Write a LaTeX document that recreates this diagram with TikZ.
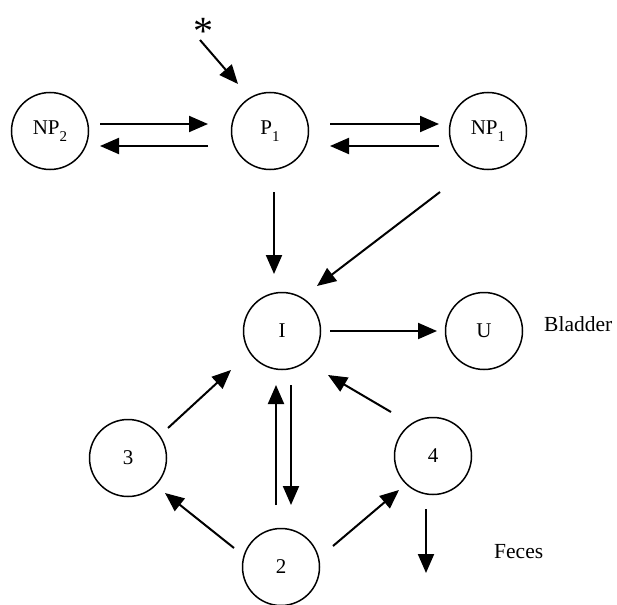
\documentclass[tikz,border=0pt]{standalone}
\usepackage{fontspec}
\setmainfont{Liberation Serif}
\usetikzlibrary{calc,arrows.meta}
\newcommand\lowsub[1]{\raisebox{-7pt}{\fontsize{15}{15}\selectfont #1}}
\begin{document}
\begin{tikzpicture}[x=1pt,y=-1pt,
  comp/.style={draw, circle, line width=1.5pt, minimum size=77pt, inner sep=0pt,
               font=\fontsize{21}{24}\selectfont},
  flow/.style={line width=2pt, -{Triangle[length=19pt,width=16pt]}},
  lbl/.style={font=\fontsize{21.5}{24}\selectfont, inner sep=0pt, anchor=west}]
\useasboundingbox (0,0) rectangle (617,604);

% compartments
\node[comp] (NP2) at (50,131)  {NP\lowsub{2}};
\node[comp] (P1)  at (270,131) {P\lowsub{1}};
\node[comp] (NP1) at (488,131) {NP\lowsub{1}};
\node[comp] (I)   at (282,331) {I};
\node[comp] (U)   at (484,331) {U};
\node[comp] (n3)  at (128,458) {3};
\node[comp] (n4)  at (433,456) {4};
\node[comp] (n2)  at (281,567) {2};

% dose marker and labels
\node[font=\fontsize{40}{40}\selectfont, inner sep=0pt] (dose) at (203,31) {*};
\node[lbl] (bladder) at (544,324) {Bladder};
\node[lbl] (feces)   at (494,552) {Feces};
\coordinate (out4) at (426,573);

% transfers
\draw[flow] ($(dose)+(-3,9)$) -- ($(P1)+(-32,-47)$);
\draw[flow] ($(NP2)+(50,-7)$) -- ($(P1)+(-62,-7)$);
\draw[flow] ($(P1)+(-62,15)$) -- ($(NP2)+(50,15)$);
\draw[flow] ($(P1)+(60,-7)$) -- ($(NP1)+(-49,-7)$);
\draw[flow] ($(NP1)+(-49,15)$) -- ($(P1)+(60,15)$);
\draw[flow] ($(P1)+(4,61)$) -- ($(I)+(-8,-57)$);
\draw[flow] ($(NP1)+(-48,61)$) -- ($(I)+(35,-45)$);
\draw[flow] ($(I)+(48,0)$) -- ($(U)+(-47,0)$);
\draw[flow] ($(n3)+(40,-30)$) -- ($(I)+(-51,39)$);
\draw[flow] ($(n4)+(-42,-44)$) -- ($(I)+(46,44)$);
\draw[flow] ($(I)+(9,54)$) -- ($(n2)+(10,-62)$);
\draw[flow] ($(n2)+(-5,-62)$) -- ($(I)+(-6,54)$);
\draw[flow] ($(n2)+(-47,-19)$) -- ($(n3)+(37,35)$);
\draw[flow] ($(n2)+(52,-21)$) -- ($(n4)+(-34,34)$);
\draw[flow] ($(n4)+(-7,53)$) -- (out4);
\end{tikzpicture}
\end{document}
